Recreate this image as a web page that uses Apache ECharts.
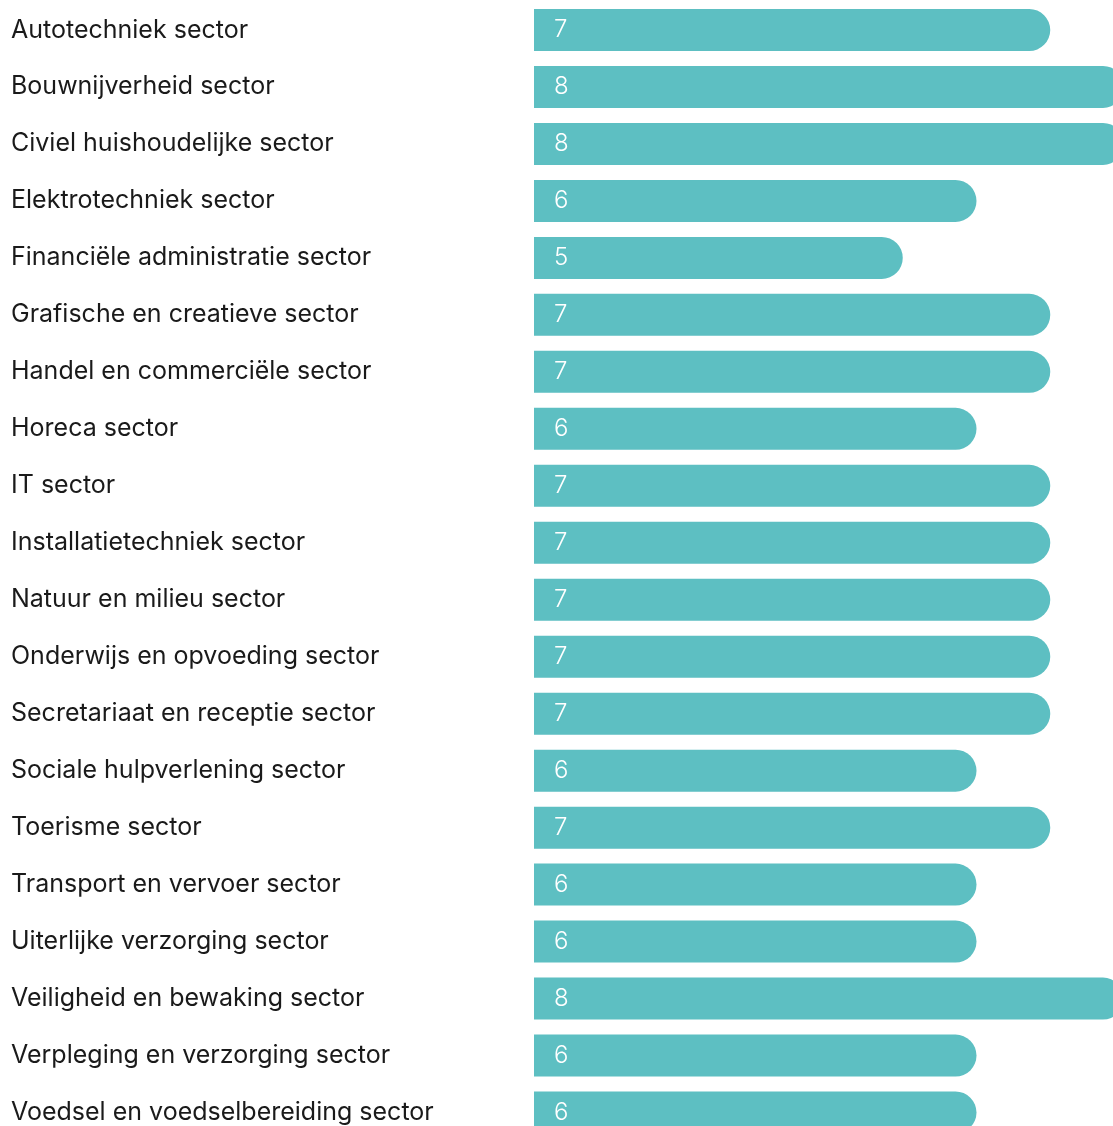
<!DOCTYPE html>
<html>
<head>
<meta charset="utf-8">
<script src="https://cdn.jsdelivr.net/npm/echarts@6/dist/echarts.min.js"></script>
<style>
html,body{margin:0;padding:0;background:#fff;overflow:hidden;width:1113px;height:1126px;}
#chart{width:1124px;height:1141px;}
</style>
</head>
<body>
<div id="chart"></div>
<script>
const categories = [
  "Autotechniek sector",
  "Bouwnijverheid sector",
  "Civiel huishoudelijke sector",
  "Elektrotechniek sector",
  "Financiële administratie sector",
  "Grafische en creatieve sector",
  "Handel en commerciële sector",
  "Horeca sector",
  "IT sector",
  "Installatietechniek sector",
  "Natuur en milieu sector",
  "Onderwijs en opvoeding sector",
  "Secretariaat en receptie sector",
  "Sociale hulpverlening sector",
  "Toerisme sector",
  "Transport en vervoer sector",
  "Uiterlijke verzorging sector",
  "Veiligheid en bewaking sector",
  "Verpleging en verzorging sector",
  "Voedsel en voedselbereiding sector"
];
const values = [7, 8, 8, 6, 5, 7, 7, 6, 7, 7, 7, 7, 7, 6, 7, 6, 6, 8, 6, 6];

const chart = echarts.init(document.getElementById('chart'), null, {renderer: 'canvas'});
chart.setOption({
  animation: false,
  grid: {left: 534, right: 0, top: 1.5, bottom: 0, containLabel: false},
  xAxis: {
    type: 'value', min: 0, max: 8,
    show: false
  },
  yAxis: {
    type: 'category',
    data: categories,
    inverse: true,
    axisLine: {show: false},
    axisTick: {show: false},
    splitLine: {show: false},
    axisLabel: {
      align: 'left',
      margin: 523,
      color: '#1a1a1a',
      fontSize: 25,
      fontFamily: 'Inter',
      padding: [3, 0, 0, 0]
    }
  },
  series: [{
    type: 'bar',
    data: values,
    barWidth: 42,
    itemStyle: {color: '#5dbfc2', borderRadius: [0, 21, 21, 0]},
    label: {
      show: true,
      position: 'insideLeft',
      distance: 20,
      color: '#ffffff',
      fontSize: 24,
      fontFamily: 'Inter',
      fontWeight: 300,
      padding: [4, 0, 0, 0]
    }
  }]
});
</script>
</body>
</html>
